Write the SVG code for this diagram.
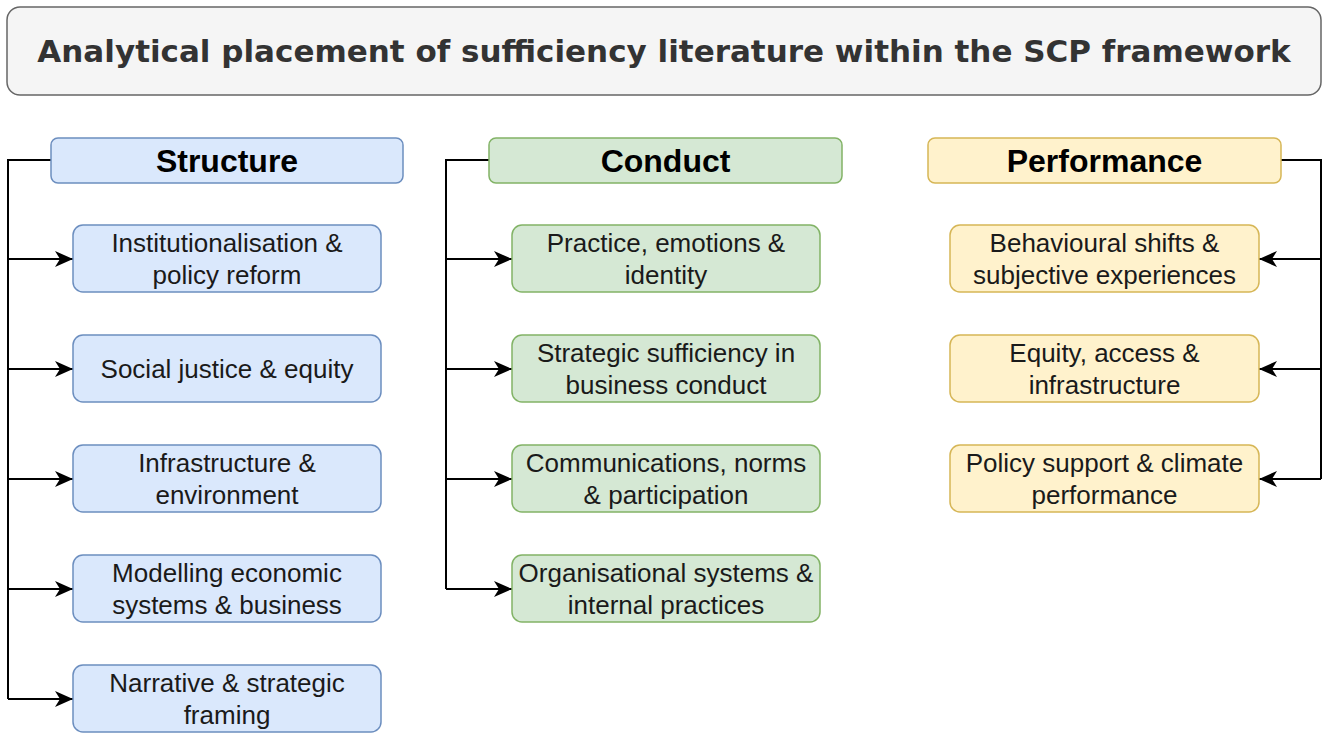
<svg xmlns="http://www.w3.org/2000/svg" width="1323" height="733" viewBox="0 0 1323 733">
<defs>
<marker id="arr" markerUnits="userSpaceOnUse" markerWidth="20" markerHeight="18" refX="18" refY="8" orient="auto">
<path d="M0,0 L18,8 L0,16 L5,8 Z" fill="#000"/>
</marker>
</defs>
<style>
.title{fill:#f5f5f5;stroke:#666666;stroke-width:1.5}
.tt{font-family:"DejaVu Sans",Verdana,sans-serif;font-weight:bold;font-size:31px;fill:#333333}
.b{fill:#dae8fc;stroke:#6c8ebf;stroke-width:1.5}
.g{fill:#d5e8d4;stroke:#82b366;stroke-width:1.5}
.y{fill:#fff2cc;stroke:#d6b656;stroke-width:1.5}
.h{font-family:"Liberation Sans",Arial,sans-serif;font-weight:bold;font-size:32px;fill:#000;text-anchor:middle}
.t{font-family:"Liberation Sans",Arial,sans-serif;font-size:26px;fill:#1a1a1a;text-anchor:middle}
.c{fill:none;stroke:#000;stroke-width:2}
</style>
<rect width="1323" height="733" fill="#fff"/>
<g id="title">
<rect class="title" x="7" y="7" width="1314" height="88" rx="13"/>
<text class="tt" x="664" y="62" text-anchor="middle">Analytical placement of sufficiency literature within the SCP framework</text>
</g>
<g id="connectors">
<path class="c" d="M51,160 H8 V699"/>
<path class="c" d="M8,259 H73" marker-end="url(#arr)"/>
<path class="c" d="M8,369 H73" marker-end="url(#arr)"/>
<path class="c" d="M8,479 H73" marker-end="url(#arr)"/>
<path class="c" d="M8,589 H73" marker-end="url(#arr)"/>
<path class="c" d="M8,699 H73" marker-end="url(#arr)"/>
<path class="c" d="M489,160 H446 V589"/>
<path class="c" d="M446,259 H512" marker-end="url(#arr)"/>
<path class="c" d="M446,369 H512" marker-end="url(#arr)"/>
<path class="c" d="M446,479 H512" marker-end="url(#arr)"/>
<path class="c" d="M446,589 H512" marker-end="url(#arr)"/>
<path class="c" d="M1281,160 H1321 V479"/>
<path class="c" d="M1321,259 H1259" marker-end="url(#arr)"/>
<path class="c" d="M1321,369 H1259" marker-end="url(#arr)"/>
<path class="c" d="M1321,479 H1259" marker-end="url(#arr)"/>
</g>
<g id="structure">
<rect class="b" x="51" y="138" width="352" height="45" rx="7"/>
<text class="h" x="227" y="172">Structure</text>
</g>
<g id="s1"><rect class="b" x="73" y="225" width="308" height="67" rx="10"/><text class="t" x="227" y="252">Institutionalisation &amp;</text><text class="t" x="227" y="284">policy reform</text></g>
<g id="s2"><rect class="b" x="73" y="335" width="308" height="67" rx="10"/><text class="t" x="227" y="378">Social justice &amp; equity</text></g>
<g id="s3"><rect class="b" x="73" y="445" width="308" height="67" rx="10"/><text class="t" x="227" y="472">Infrastructure &amp;</text><text class="t" x="227" y="504">environment</text></g>
<g id="s4"><rect class="b" x="73" y="555" width="308" height="67" rx="10"/><text class="t" x="227" y="582">Modelling economic</text><text class="t" x="227" y="614">systems &amp; business</text></g>
<g id="s5"><rect class="b" x="73" y="665" width="308" height="67" rx="10"/><text class="t" x="227" y="692">Narrative &amp; strategic</text><text class="t" x="227" y="724">framing</text></g>
<g id="conduct">
<rect class="g" x="489" y="138" width="353" height="45" rx="7"/>
<text class="h" x="665.5" y="172">Conduct</text>
</g>
<g id="c1"><rect class="g" x="512" y="225" width="308" height="67" rx="10"/><text class="t" x="666" y="252">Practice, emotions &amp;</text><text class="t" x="666" y="284">identity</text></g>
<g id="c2"><rect class="g" x="512" y="335" width="308" height="67" rx="10"/><text class="t" x="666" y="362">Strategic sufficiency in</text><text class="t" x="666" y="394">business conduct</text></g>
<g id="c3"><rect class="g" x="512" y="445" width="308" height="67" rx="10"/><text class="t" x="666" y="472">Communications, norms</text><text class="t" x="666" y="504">&amp; participation</text></g>
<g id="c4"><rect class="g" x="512" y="555" width="308" height="67" rx="10"/><text class="t" x="666" y="582">Organisational systems &amp;</text><text class="t" x="666" y="614">internal practices</text></g>
<g id="performance">
<rect class="y" x="928" y="138" width="353" height="45" rx="7"/>
<text class="h" x="1104.5" y="172">Performance</text>
</g>
<g id="p1"><rect class="y" x="950" y="225" width="309" height="67" rx="10"/><text class="t" x="1104.5" y="252">Behavioural shifts &amp;</text><text class="t" x="1104.5" y="284">subjective experiences</text></g>
<g id="p2"><rect class="y" x="950" y="335" width="309" height="67" rx="10"/><text class="t" x="1104.5" y="362">Equity, access &amp;</text><text class="t" x="1104.5" y="394">infrastructure</text></g>
<g id="p3"><rect class="y" x="950" y="445" width="309" height="67" rx="10"/><text class="t" x="1104.5" y="472">Policy support &amp; climate</text><text class="t" x="1104.5" y="504">performance</text></g>
</svg>
